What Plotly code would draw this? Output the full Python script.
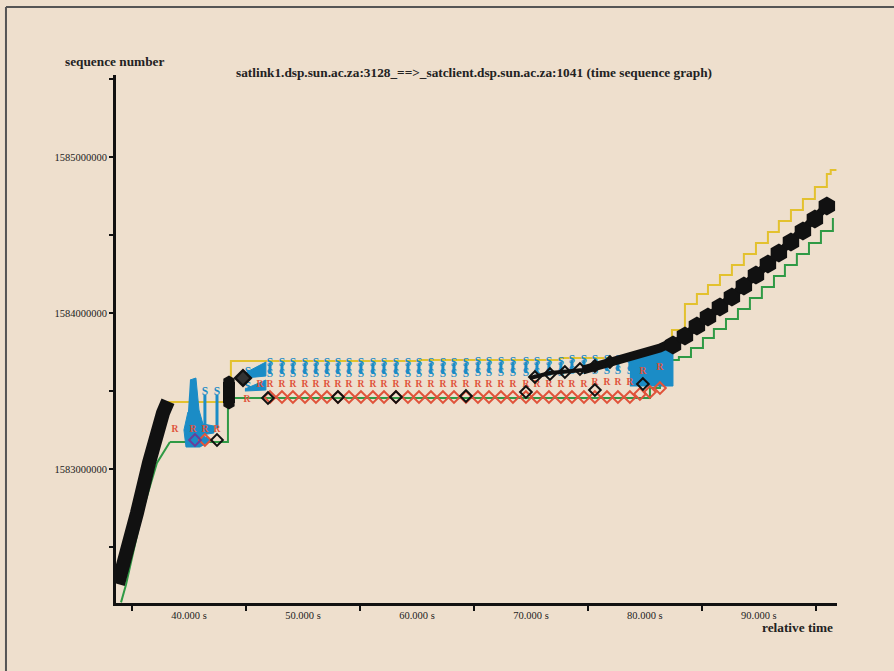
import plotly.graph_objects as go

# ---------------- data (time in s, TCP sequence numbers) ----------------
ramp_t = [33.77, 34.21, 35.44, 36.49, 36.93, 37.72, 38.16]
ramp_seq = [1582262000, 1582371800, 1582718000, 1583038500, 1583185900, 1583359000, 1583435000]

hold_t = [43.51, 43.51]
hold_seq = [1583557700, 1583423000]

diag_t = [69.91, 71.67, 74.56, 76.05, 78.42, 79.56, 81.32, 82.46]
diag_seq = [1583583300, 1583615400, 1583634600, 1583666600, 1583711500, 1583743600, 1583775600, 1583814100]

chain_t = [82.46, 83.51, 84.56, 85.53, 86.58, 87.63, 88.68, 89.74, 90.79, 91.75, 92.81, 93.86, 94.91, 95.96]
chain_seq = [1583794800, 1583852500, 1583916600, 1583974300, 1584038400, 1584102500, 1584173000,
             1584243500, 1584314100, 1584384600, 1584455100, 1584525600, 1584602500, 1584685800]

win_t = [38.07, 43.68, 60.26, 72.54, 77.81, 80.44, 82.37, 83.51, 84.56, 85.53, 86.58, 87.63, 88.68,
         89.74, 90.79, 91.75, 92.81, 93.86, 94.91, 95.96, 96.30, 96.80]
win_seq = [1583429500, 1583692300, 1583698700, 1583711500, 1583724300, 1583750000, 1583891000,
           1584057700, 1584121800, 1584179400, 1584243500, 1584307600, 1584378200, 1584448700,
           1584519200, 1584589700, 1584660200, 1584730700, 1584807600, 1584891000, 1584916600, 1584916600]

ack_ramp_t = [34.04, 34.47, 35.88, 37.19, 38.33]
ack_ramp_seq = [1582145000, 1582256400, 1582718000, 1583038500, 1583173100]

ack_step_t = [38.33, 43.42, 79.56, 80.44, 81.32, 82.19, 82.98, 84.04, 85.09, 86.05, 87.11, 88.16,
              89.21, 90.26, 91.32, 92.28, 93.33, 94.39, 95.44, 96.49]
ack_step_seq = [1583173100, 1583455100, 1583455100, 1583519200, 1583609000, 1583698700, 1583717900,
                1583775600, 1583839700, 1583897400, 1583961500, 1584025600, 1584096100, 1584166600,
                1584237100, 1584307600, 1584378200, 1584448700, 1584525600, 1584608900]

col_t = [47.11, 48.16, 49.12, 50.18, 51.14, 52.11, 53.07, 54.04, 55.09, 56.14, 57.11, 58.16, 59.21,
         60.18, 61.23, 62.28, 63.25, 64.30, 65.35, 66.32, 67.37, 68.42, 69.56, 70.53, 71.58, 72.63,
         73.60, 74.65, 75.61, 76.67, 77.63, 78.68]
col_sack_hi = [
    1583679300, 1583679300, 1583679300, 1583679300, 1583679300, 1583679300, 1583679300, 1583679300,
    1583679300, 1583679300, 1583679300, 1583679300, 1583679300, 1583679300, 1583679300, 1583679300,
    1583679300, 1583679300, 1583685700, 1583685700, 1583685700, 1583685700, 1583685700, 1583685700,
    1583685700, 1583685700, 1583698500, 1583698500, 1583698500, 1583698500, 1583698500, 1583698500]
col_sack_lo = [
    1583608900, 1583608900, 1583608900, 1583608900, 1583608900, 1583608900, 1583608900, 1583608900,
    1583608900, 1583608900, 1583608900, 1583608900, 1583608900, 1583608900, 1583608900, 1583608900,
    1583608900, 1583608900, 1583615300, 1583615300, 1583615300, 1583615300, 1583615300, 1583615300,
    1583615300, 1583615300, 1583628100, 1583628100, 1583628100, 1583628100, 1583628100, 1583628100]
col_rexmit = [
    1583538400, 1583538400, 1583538400, 1583538400, 1583538400, 1583538400, 1583538400, 1583538400,
    1583538400, 1583538400, 1583538400, 1583538400, 1583538400, 1583538400, 1583538400, 1583538400,
    1583538400, 1583538400, 1583538400, 1583538400, 1583538400, 1583538400, 1583538400, 1583538400,
    1583538400, 1583538400, 1583538400, 1583538400, 1583551300, 1583551300, 1583551300, 1583551300]
col_dupack = [
    1583461500, 1583461500, 1583461500, 1583461500, 1583461500, 1583461500, 1583461500, 1583461500,
    1583461500, 1583461500, 1583461500, 1583461500, 1583461500, 1583461500, 1583461500, 1583461500,
    1583461500, 1583461500, 1583461500, 1583461500, 1583461500, 1583461500, 1583461500, 1583461500,
    1583461500, 1583461500, 1583461500, 1583461500, 1583461500, 1583461500, 1583461500, 1583461500]

sack_extra_t = [40.35, 41.40, 42.46, 45.18, 45.18]
sack_extra_seq = [1583493600, 1583493600, 1583493600, 1583621800, 1583525600]

sack_line_t = [41.40, 42.46]
sack_line_top = [1583475000, 1583475000]
sack_line_bot = [1583262800, 1583262800]

rexmit_extra_t = [38.77, 40.35, 41.40, 42.46, 45.09, 46.23, 79.82, 81.32]
rexmit_extra_seq = [1583250000, 1583250000, 1583250000, 1583250000, 1583442300, 1583538400,
                    1583621800, 1583647400]

dup_extra_t = [41.40, 79.56, 80.44, 81.32]
dup_extra_seq = [1583185900, 1583480800, 1583493600, 1583519200]

ackmark_t = [42.46, 46.93, 53.07, 58.16, 64.30, 69.56, 75.61, 79.82,
             70.35, 71.67, 72.98, 74.30, 75.61, 76.93]
ackmark_seq = [1583185900, 1583455100, 1583461500, 1583461500, 1583467900, 1583493600, 1583506400,
               1583544900, 1583589700, 1583609000, 1583621800, 1583641000, 1583660200, 1583685900]

dark_t = [44.74]
dark_seq = [1583583300]
purple_t = [40.53]
purple_seq = [1583185900]

blob_t = [40.09, 40.61, 40.88, 41.23, 42.19, 42.19, 41.05, 42.02, 40.96, 39.74, 39.56, 39.91]
blob_seq = [1583570500, 1583583300, 1583378200, 1583288500, 1583275600, 1583230800, 1583217900,
            1583185900, 1583141000, 1583141000, 1583250000, 1583365400]
wedge_a_t = [44.91, 46.75, 46.75, 44.91]
wedge_a_seq = [1583615400, 1583685900, 1583596100, 1583583300]
wedge_b_t = [44.91, 46.75, 46.75, 44.91]
wedge_b_seq = [1583512800, 1583570500, 1583506400, 1583500000]
block_t = [78.68, 80.44, 82.46, 82.46, 78.68]
block_seq = [1583698700, 1583762800, 1583839700, 1583532000, 1583532000]

x_label_vals = [40, 50, 60, 70, 80, 90]
x_label_text = ["40.000 s", "50.000 s", "60.000 s", "70.000 s", "80.000 s", "90.000 s"]
x_minor_vals = [35, 45, 55, 65, 75, 85, 95]
y_label_vals = [1583000000, 1584000000, 1585000000]
y_label_text = ["1583000000", "1584000000", "1585000000"]
y_minor_vals = [1582500000, 1583500000, 1584500000, 1585500000]

# ---------------- style ----------------
BG = "#eedfcd"
YEL = "#e3c12e"
GRN = "#2f9a45"
BLU = "#1b8cc6"
RED = "#e0533a"
BLK = "#111111"
FONT = "Liberation Serif"

fig = go.Figure()

def poly(t, s):
    fig.add_trace(go.Scatter(x=t, y=s, mode="lines", fill="toself", fillcolor=BLU,
                             line=dict(color=BLU, width=1), hoverinfo="skip"))

# window (yellow) and ack (green)
fig.add_trace(go.Scatter(x=win_t, y=win_seq, mode="lines", line=dict(color=YEL, width=2, shape="hv")))
fig.add_trace(go.Scatter(x=ack_ramp_t, y=ack_ramp_seq, mode="lines", line=dict(color=GRN, width=2)))
fig.add_trace(go.Scatter(x=ack_step_t, y=ack_step_seq, mode="lines", line=dict(color=GRN, width=2, shape="hv")))

# blue sack areas
poly(blob_t, blob_seq)
poly(wedge_a_t, wedge_a_seq)
poly(wedge_b_t, wedge_b_seq)
poly(block_t, block_seq)

# blue sack vertical lines
lx, ly = [], []
for t, hi, lo in zip(col_t, col_sack_hi, col_sack_lo):
    lx += [t, t, None]
    ly += [hi, lo, None]
for t, hi, lo in zip(sack_line_t, sack_line_top, sack_line_bot):
    lx += [t, t, None]
    ly += [hi, lo, None]
fig.add_trace(go.Scatter(x=lx, y=ly, mode="lines", line=dict(color=BLU, width=3)))

# S glyphs
fig.add_trace(go.Scatter(x=col_t + col_t + sack_extra_t, y=col_sack_hi + col_sack_lo + sack_extra_seq,
                         mode="text", text=["S"] * (2 * len(col_t) + len(sack_extra_t)),
                         textfont=dict(family=FONT, size=11.5, color=BLU, weight="bold")))
# R glyphs
fig.add_trace(go.Scatter(x=col_t + rexmit_extra_t, y=col_rexmit + rexmit_extra_seq,
                         mode="text", text=["R"] * (len(col_t) + len(rexmit_extra_t)),
                         textfont=dict(family=FONT, size=9.5, color=RED, weight="bold")))
# red duplicate-ack diamonds
fig.add_trace(go.Scatter(x=col_t + dup_extra_t, y=col_dupack + dup_extra_seq, mode="markers",
                         marker=dict(symbol="diamond-open", size=9, color=RED, line=dict(width=2, color=RED))))
# purple diamond
fig.add_trace(go.Scatter(x=purple_t, y=purple_seq, mode="markers",
                         marker=dict(symbol="diamond-open", size=9, color="#6a3d9a", line=dict(width=2, color="#6a3d9a"))))

# black data: ramp, hold, diagonal, chain
fig.add_trace(go.Scatter(x=ramp_t, y=ramp_seq, mode="lines", line=dict(color=BLK, width=14)))
fig.add_trace(go.Scatter(x=hold_t, y=hold_seq, mode="lines+markers", line=dict(color=BLK, width=12),
                         marker=dict(symbol="hexagon", size=13, color=BLK)))
fig.add_trace(go.Scatter(x=diag_t, y=diag_seq, mode="lines", line=dict(color=BLK, width=4)))
fig.add_trace(go.Scatter(x=diag_t[2:], y=diag_seq[2:], mode="lines", line=dict(color=BLK, width=9)))
fig.add_trace(go.Scatter(x=chain_t, y=chain_seq, mode="lines+markers", line=dict(color=BLK, width=8),
                         marker=dict(symbol="hexagon", size=19, color=BLK)))

# black ack diamonds
fig.add_trace(go.Scatter(x=ackmark_t, y=ackmark_seq, mode="markers",
                         marker=dict(symbol="diamond-open", size=9, color=BLK, line=dict(width=2, color=BLK))))
fig.add_trace(go.Scatter(x=dark_t, y=dark_seq, mode="markers",
                         marker=dict(symbol="diamond", size=12, color="#333333", line=dict(width=2.5, color=BLK))))

fig.update_layout(
    width=894, height=671,
    paper_bgcolor=BG, plot_bgcolor=BG,
    showlegend=False,
    margin=dict(l=116, r=57, t=75, b=68, autoexpand=False),
    font=dict(family=FONT, color=BLK),
    xaxis=dict(range=[33.6, 96.85], showgrid=False, zeroline=False, showline=True, linecolor=BLK,
               linewidth=3, tickmode="array", tickvals=x_label_vals, ticktext=x_label_text, ticks="",
               tickfont=dict(family=FONT, size=10.5, color="#222"),
               minor=dict(tickmode="array", tickvals=x_minor_vals, ticks="outside", ticklen=5,
                          tickwidth=2, tickcolor=BLK, showgrid=False)),
    yaxis=dict(range=[1582141000, 1585526000], showgrid=False, zeroline=False, showline=True,
               linecolor=BLK, linewidth=3, tickmode="array", tickvals=y_label_vals, ticktext=y_label_text,
               ticks="outside", ticklen=4, tickwidth=2, tickcolor=BLK,
               tickfont=dict(family=FONT, size=10.5, color="#222"),
               minor=dict(tickmode="array", tickvals=y_minor_vals, ticks="outside", ticklen=4,
                          tickwidth=2, tickcolor=BLK, showgrid=False)),
    annotations=[
        dict(text="<b>satlink1.dsp.sun.ac.za:3128_==>_satclient.dsp.sun.ac.za:1041 (time sequence graph)</b>",
             xref="paper", yref="paper", x=0.4962, y=1.0038, xanchor="center", yanchor="middle",
             showarrow=False, font=dict(family=FONT, size=13.3, color="#222")),
        dict(text="<b>sequence number</b>", xref="paper", yref="paper", x=-0.0014, y=1.0265,
             xanchor="center", yanchor="middle", showarrow=False, font=dict(family=FONT, size=13.3, color="#222")),
        dict(text="<b>relative time</b>", xref="paper", yref="paper", x=0.9972, y=-0.0455,
             xanchor="right", yanchor="middle", showarrow=False, font=dict(family=FONT, size=13.3, color="#222")),
    ],
    shapes=[
        dict(type="line", xref="paper", yref="paper", x0=-0.1526, x1=1.08, y0=1.1288, y1=1.1288,
             line=dict(color="#555", width=2)),
        dict(type="line", xref="paper", yref="paper", x0=-0.1526, x1=-0.1526, y0=1.1288, y1=-0.13,
             line=dict(color="#555", width=2)),
    ],
)

fig.write_html("out.html")
